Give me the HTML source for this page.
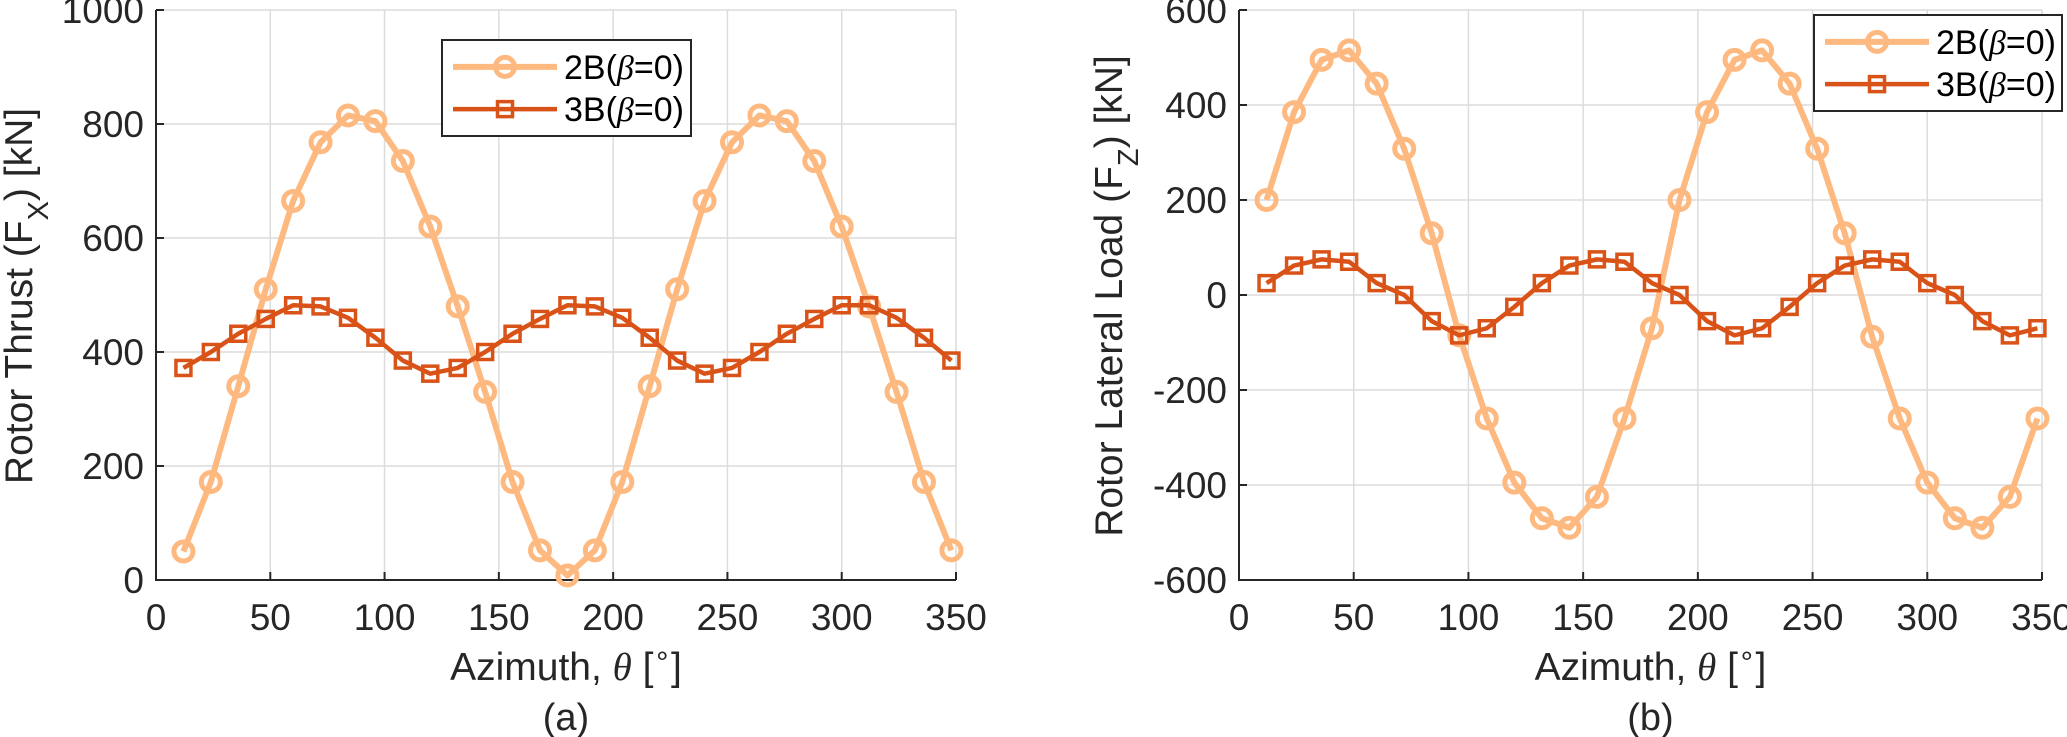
<!DOCTYPE html>
<html><head><meta charset="utf-8"><style>
html,body{margin:0;padding:0;background:#fff;}
svg{display:block;font-family:"Liberation Sans",Arial,sans-serif;}
</style></head><body>
<svg id="fig" width="2067" height="737" viewBox="0 0 2067 737"></svg>
<script>
const azimuth=[12,24,36,48,60,72,84,96,108,120,132,144,156,168,180,192,204,216,228,240,252,264,276,288,300,312,324,336,348];
const thrust2B=[50,172,340,510,665,768,815,805,735,620,480,330,172,52,8,52,172,340,510,665,768,815,805,735,620,480,330,172,52];
const thrust3B=[372,400,432,458,482,480,460,425,385,362,372,400,432,458,482,480,460,425,385,362,372,400,432,458,482,482,460,425,385];
const lateral2B=[200,385,495,515,445,308,130,-85,-260,-395,-470,-490,-425,-260,-70,200,385,495,515,445,308,130,-88,-260,-395,-470,-490,-425,-260];
const lateral3B=[25,62,75,70,25,0,-55,-85,-70,-25,25,62,75,70,25,0,-55,-85,-70,-25,25,62,75,70,25,0,-55,-85,-70];
const xTicks=[0,50,100,150,200,250,300,350];
const yTicksA=[0,200,400,600,800,1000];
const yTicksB=[-600,-400,-200,0,200,400,600];
const C2='#FDB97F', C3='#D95319';
const NS='http://www.w3.org/2000/svg';
const svg=document.getElementById('fig');
function mk(tag,attrs,parent,text){const e=document.createElementNS(NS,tag);for(const k in attrs)e.setAttribute(k,attrs[k]);if(text!==undefined)e.textContent=text;(parent||svg).appendChild(e);return e;}

function panel(cfg){
  const g=mk('g',{});
  
  
  const X=v=>cfg.x0+(v-0)/(350-0)*(cfg.x1-cfg.x0);
  const Y=v=>cfg.y0-(v-cfg.ymin)/(cfg.ymax-cfg.ymin)*(cfg.y0-cfg.y1);
  xTicks.forEach(t=>{const l=mk('line',{x1:X(t),x2:X(t),y1:cfg.y1,y2:cfg.y0,stroke:'#dcdcdc','stroke-width':1.5},g);
    });
  cfg.yTicks.forEach(t=>{const l=mk('line',{x1:cfg.x0,x2:cfg.x1,y1:Y(t),y2:Y(t),stroke:'#dcdcdc','stroke-width':1.5},g);
    });
  const ax=mk('path',{d:`M${cfg.x0},${cfg.y1}V${cfg.y0}H${cfg.x1}`,fill:'none',stroke:'#262626','stroke-width':2},g);
  
  xTicks.forEach(t=>{mk('line',{x1:X(t),x2:X(t),y1:cfg.y0,y2:cfg.y0-8,stroke:'#262626','stroke-width':2},g);
    const tx=mk('text',{x:X(t),y:cfg.y0+50,'text-anchor':'middle','font-size':37,fill:'#262626'},g,String(t));
    });
  cfg.yTicks.forEach(t=>{mk('line',{x1:cfg.x0,x2:cfg.x0+8,y1:Y(t),y2:Y(t),stroke:'#262626','stroke-width':2},g);
    const tx=mk('text',{x:cfg.x0-12,y:Y(t)+13,'text-anchor':'end','font-size':37,fill:'#262626'},g,String(t));
    });
  function series(vals,color,w,marker,nm){
    const sg=mk('g',{},g);
    
    
    mk('polyline',{points:azimuth.map((a,i)=>X(a)+','+Y(vals[i])).join(' '),fill:'none',stroke:color,'stroke-width':w,'stroke-linejoin':'round'},sg);
    azimuth.forEach((a,i)=>{
      let m;
      if(marker==='o') m=mk('circle',{cx:X(a),cy:Y(vals[i]),r:9.5,fill:'none',stroke:color,'stroke-width':5},sg);
      else m=mk('rect',{x:X(a)-7.5,y:Y(vals[i])-7.5,width:15,height:15,fill:'none',stroke:color,'stroke-width':3.5},sg);
      
      
    });
  }
  series(cfg.s2,C2,6,'o','series-2b');
  series(cfg.s3,C3,4.5,'s','series-3b');
  const xl=mk('text',{x:(cfg.x0+cfg.x1)/2+10,y:680,'text-anchor':'middle','font-size':39,fill:'#262626'},g);
  
  xl.innerHTML='Azimuth, <tspan font-family="Liberation Serif" font-style="italic">θ</tspan> [<tspan baseline-shift="super" font-size="28">∘</tspan>]';
  const yl=mk('text',{transform:`translate(${cfg.ylx},296) rotate(-90)`,'text-anchor':'middle','font-size':39,fill:'#262626'},g);
  
  yl.innerHTML=cfg.ylabel;
  const cap=mk('text',{x:(cfg.x0+cfg.x1)/2+10,y:730,'text-anchor':'middle','font-size':38,fill:'#262626'},g,cfg.cap);
  
  const L=cfg.leg;
  const lg=mk('g',{},g);
  
  
  mk('rect',{x:L.x,y:L.y,width:L.w,height:L.h,fill:'#fff',stroke:'#262626','stroke-width':2},lg);
  const rows=[[C2,6,'o','2B'],[C3,4.5,'s','3B']];
  rows.forEach((r,i)=>{
    const cy=L.y+L.h*(i===0?0.28:0.72);
    const e=mk('g',{},lg);
    
    
    mk('line',{x1:L.x+11,x2:L.x+115,y1:cy,y2:cy,stroke:r[0],'stroke-width':r[1]},e);
    if(r[2]==='o') mk('circle',{cx:L.x+63,cy:cy,r:9.5,fill:'none',stroke:r[0],'stroke-width':5},e);
    else mk('rect',{x:L.x+55.5,y:cy-7.5,width:15,height:15,fill:'none',stroke:r[0],'stroke-width':3.5},e);
    const t=mk('text',{x:L.x+122,y:cy+12,'font-size':34,fill:'#000'},e);
    t.innerHTML=r[3]+'(<tspan font-family="Liberation Serif" font-style="italic">β</tspan>=0)';
  });
}
panel({name:'panel-a-thrust',x0:156,x1:956,y0:580,y1:10,ymin:0,ymax:1000,yTicks:yTicksA,s2:thrust2B,s3:thrust3B,ylx:32,cap:'(a)',
  ylabel:'Rotor Thrust (F<tspan baseline-shift="sub" font-size="29">X</tspan>) [kN]',leg:{x:442,y:40,w:249,h:96}});
panel({name:'panel-b-lateral',x0:1239,x1:2042,y0:580,y1:10,ymin:-600,ymax:600,yTicks:yTicksB,s2:lateral2B,s3:lateral3B,ylx:1122,cap:'(b)',
  ylabel:'Rotor Lateral Load (F<tspan baseline-shift="sub" font-size="29">Z</tspan>) [kN]',leg:{x:1814,y:15,w:248,h:96}});
</script>
</body></html>
